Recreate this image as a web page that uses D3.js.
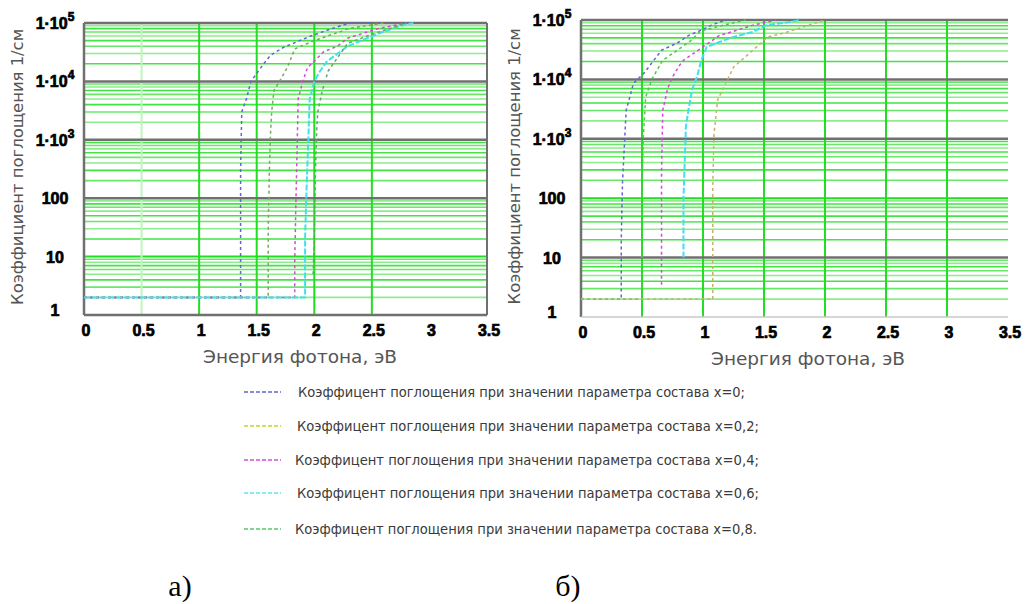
<!DOCTYPE html>
<html><head><meta charset="utf-8">
<script src="https://cdn.jsdelivr.net/npm/d3@7/dist/d3.min.js"></script>
<style>
html,body{margin:0;padding:0;background:#fff;}
svg{display:block;}
</style></head>
<body>
<svg id="c" width="1029" height="604"></svg>
<script>
// ---------- data ----------
const energyTicks = [0, 0.5, 1, 1.5, 2, 2.5, 3, 3.5];
const energyTickLabels = ["0", "0.5", "1", "1.5", "2", "2.5", "3", "3.5"];
const alphaTicks = [1, 10, 100, 1e3, 1e4, 1e5];
const alphaTickBase = ["1", "10", "100", "1·10", "1·10", "1·10"];
const alphaTickExp = ["", "", "", "3", "4", "5"];

const seriesNames = ["x=0", "x=0,2", "x=0,4", "x=0,6", "x=0,8"];
const legendLabels = [
  "Коэффицент поглощения при значении параметра состава x=0;",
  "Коэффицент поглощения при значении параметра состава  x=0,2;",
  "Коэффицент поглощения при значении параметра состава  x=0,4;",
  "Коэффицент поглощения при значении параметра состава  x=0,6;",
  "Коэффицент поглощения при значении параметра состава  x=0,8."
];
const yTitle = "Коэффициент поглощения 1/см";
const xTitle = "Энергия фотона, эВ";
const panelCaptions = ["а)", "б)"];

// panel а) : [energy eV, alpha 1/cm]
const a_x0  = [[0,2],[1.36,2],[1.36,20],[1.36,300],[1.37,3000],[1.41,5000],[1.45,1e4],[1.56,2e4],[1.62,2.8e4],[1.73,3.8e4],[1.97,6e4],[2.11,7.5e4],[2.23,9e4],[2.32,1e5],[2.5,1e5]];
const a_x02 = [[0,2],[1.6,2],[1.6,30],[1.61,300],[1.62,1300],[1.63,3000],[1.65,7000],[1.71,1.1e4],[1.77,1.8e4],[1.83,3.6e4],[2.0,5e4],[2.3,8e4],[2.6,1e5]];
const a_x04 = [[0,2],[1.83,2],[1.83,8],[1.84,80],[1.85,600],[1.86,5000],[1.9,1e4],[1.94,1.7e4],[2.08,3.2e4],[2.2,4e4],[2.29,5.5e4],[2.55,8e4],[2.8,1e5]];
const a_x06 = [[0,2],[1.92,2],[1.92,20],[1.93,100],[1.95,1300],[1.96,5000],[2.0,1e4],[2.04,1.4e4],[2.11,2.2e4],[2.29,4e4],[2.55,6.5e4],[2.75,9e4],[2.86,1e5]];
const a_x08 = [[1.99,5],[2.0,20],[2.01,300],[2.02,1300],[2.03,3000],[2.07,7000],[2.12,1.5e4],[2.29,4.5e4],[2.51,6.5e4],[2.69,8.5e4],[2.8,1e5]];

// panel б)
const b_x0  = [[0,2],[0.33,2],[0.33,20],[0.34,180],[0.37,3000],[0.40,5000],[0.43,8600],[0.52,1.3e4],[0.66,3.1e4],[0.79,4.1e4],[0.89,5.6e4],[0.99,6.8e4],[1.07,8.2e4],[1.14,9.3e4],[1.2,1e5]];
const b_x02 = [[0,2],[0.5,2],[0.5,30],[0.5,150],[0.51,1000],[0.53,5000],[0.58,1e4],[0.67,2.1e4],[0.78,3e4],[0.9,4.5e4],[0.98,6.5e4],[1.2,8.5e4],[1.35,1e5]];
const b_x04 = [[0.66,3.5],[0.66,30],[0.66,260],[0.67,3000],[0.71,7000],[0.75,1.1e4],[0.81,1.75e4],[0.84,2.1e4],[0.98,3.3e4],[1.14,5.6e4],[1.2,6e4],[1.41,8.2e4],[1.6,1e5]];
const b_x06 = [[0.84,10],[0.84,100],[0.86,1600],[0.88,3000],[0.91,6600],[0.95,1.1e4],[0.99,2.2e4],[1.03,3.5e4],[1.14,4.3e4],[1.25,5.2e4],[1.41,6.3e4],[1.52,8.2e4],[1.66,8.9e4],[1.8,1e5]];
const b_x08 = [[0,2],[1.08,2],[1.08,20],[1.08,150],[1.09,1200],[1.12,4500],[1.25,1.6e4],[1.47,4e4],[1.53,5.2e4],[1.66,6e4],[2.0,1e5]];

const panelSeries = [
  [a_x0, a_x02, a_x04, a_x06, a_x08],
  [b_x0, b_x02, b_x04, b_x06, b_x08]
];
const seriesColors = ["#6464d2", "#b4dc28", "#d24cd2", "#5ee6f0", "#5ac86e"];
const panelSeriesColors = [
  ["#6464d2", "#7aa860", "#d24cd2", "#40e0f0", "#6aa070"],
  ["#6464d2", "#4cc84c", "#d24cd2", "#40e0f0", "#c8b070"]
];

// ---------- layout ----------
const panels = [
  {x0: 84, x1: 487, yBot: 315, yTop: 23, darkDecades: [100, 1e3, 1e4, 1e5], vGrid: [0.5, 1, 1.5, 2, 2.5], faint: [0.5], rightBorder: true, titleX: 18, xTitleX: 300},
  {x0: 581, x1: 1008, yBot: 317, yTop: 20, darkDecades: [10, 1e3, 1e4, 1e5], vGrid: [0.5, 1, 1.5, 2, 2.5, 3], faint: [], rightBorder: false, titleX: 515, xTitleX: 808}
];

const svg = d3.select("#c");

panels.forEach((p, pi) => {
  const x = d3.scaleLinear().domain([0, 3.5]).range([p.x0, p.x1]);
  const y = d3.scaleLog().domain([1, 1e5]).range([p.yBot, p.yTop]);
  const g = svg.append("g");

  // minor horizontal grid
  const minors = [];
  [1, 10, 100, 1e3, 1e4].forEach(d => { for (let k = 2; k <= 9; k++) minors.push(d * k); });
  g.selectAll("line.minor").data(minors).join("line")
    .attr("x1", p.x0).attr("x2", p.x1)
    .attr("y1", d => y(d)).attr("y2", d => y(d))
    .attr("stroke", "#2ee02e").attr("stroke-width", 1.6).attr("opacity", (d, i) => 0.55 + 0.35 * ((i * 7) % 3) / 2);

  // non-dark decades drawn green
  g.selectAll("line.dec").data(alphaTicks.filter(d => d > 1 && !p.darkDecades.includes(d))).join("line")
    .attr("x1", p.x0).attr("x2", p.x1)
    .attr("y1", d => y(d)).attr("y2", d => y(d))
    .attr("stroke", "#22dd22").attr("stroke-width", 2);

  // vertical grid
  g.selectAll("line.v").data(p.vGrid).join("line")
    .attr("x1", d => x(d)).attr("x2", d => x(d))
    .attr("y1", p.yTop).attr("y2", p.yBot)
    .attr("stroke", d => p.faint.includes(d) ? "#bdf5bd" : "#22dd22")
    .attr("stroke-width", 2);

  // dark decade lines
  g.selectAll("line.dark").data(p.darkDecades).join("line")
    .attr("x1", p.x0).attr("x2", p.x1)
    .attr("y1", d => y(d)).attr("y2", d => y(d))
    .attr("stroke", "#707070").attr("stroke-width", 2.5);

  // borders
  g.append("line").attr("x1", p.x0).attr("x2", p.x0).attr("y1", p.yTop).attr("y2", p.yBot)
    .attr("stroke", "#707070").attr("stroke-width", 2.5);
  g.append("line").attr("x1", p.x0).attr("x2", p.x1).attr("y1", y(1)).attr("y2", y(1))
    .attr("stroke", pi === 0 ? "#707070" : "#c8c8c8").attr("stroke-width", pi === 0 ? 2.5 : 1.5);
  if (p.rightBorder) {
    g.append("line").attr("x1", p.x1).attr("x2", p.x1).attr("y1", p.yTop).attr("y2", p.yBot)
      .attr("stroke", "#707070").attr("stroke-width", 2);
  }

  // series
  const line = d3.line().x(d => x(d[0])).y(d => y(d[1]));
  panelSeries[pi].forEach((s, si) => {
    g.append("path").datum(s).attr("d", line)
      .attr("fill", "none")
      .attr("stroke", panelSeriesColors[pi][si])
      .attr("stroke-width", si === 3 ? 2 : 1.5)
      .attr("stroke-dasharray", si === 3 ? "6,2" : "3,3");
  });

  // x tick labels
  g.selectAll("text.xt").data(energyTicks).join("text")
    .attr("x", d => x(d) + 2).attr("y", p.yBot + 21)
    .attr("text-anchor", "middle")
    .attr("font-family", "Liberation Sans, Arial, sans-serif")
    .attr("font-weight", "bold").attr("font-size", 16)
    .attr("stroke", "#000").attr("stroke-width", 0.7)
    .attr("fill", "#000")
    .text((d, i) => energyTickLabels[i]);

  // y tick labels
  const yt = g.selectAll("text.yt").data(alphaTicks).join("text")
    .attr("x", p.x0 - 29).attr("y", d => y(d) + (d === 1 ? 1 : 6))
    .attr("text-anchor", "middle")
    .attr("font-family", "Liberation Sans, Arial, sans-serif")
    .attr("font-weight", "bold").attr("font-size", 16)
    .attr("stroke", "#000").attr("stroke-width", 0.7)
    .attr("fill", "#000");
  yt.append("tspan").text((d, i) => alphaTickBase[i]);
  yt.append("tspan").attr("dy", -8).attr("font-size", 12)
    .text((d, i) => alphaTickExp[i]);

  // axis titles
  g.append("text")
    .attr("transform", `translate(${p.titleX},${(p.yTop + p.yBot) / 2 - 2}) rotate(-90)`)
    .attr("text-anchor", "middle").attr("dominant-baseline", "middle")
    .attr("font-family", "DejaVu Sans, sans-serif").attr("font-size", 16)
    .attr("textLength", 276).attr("lengthAdjust", "spacingAndGlyphs")
    .attr("fill", "#555")
    .text(yTitle);
  g.append("text")
    .attr("x", p.xTitleX).attr("y", p.yBot + 48)
    .attr("text-anchor", "middle")
    .attr("font-family", "DejaVu Sans, sans-serif").attr("font-size", 18)
    .attr("textLength", 194).attr("lengthAdjust", "spacingAndGlyphs")
    .attr("fill", "#555")
    .text(xTitle);
});

// legend
const legendY = [392, 426, 460, 493, 529];
const legendTextX = [298, 297, 295, 297, 295];
const legendTextW = [447, 462, 464, 462, 462];
const lg = svg.append("g");
seriesNames.forEach((n, i) => {
  lg.append("line").attr("x1", 244).attr("x2", 281).attr("y1", legendY[i]).attr("y2", legendY[i])
    .attr("stroke", seriesColors[i]).attr("stroke-width", 1.6).attr("stroke-dasharray", "4,2");
  lg.append("text").attr("x", legendTextX[i]).attr("y", legendY[i] + 5)
    .attr("font-family", "DejaVu Sans, sans-serif").attr("font-size", 13.5)
    .attr("textLength", legendTextW[i]).attr("lengthAdjust", "spacingAndGlyphs")
    .attr("fill", "#3a3a3a")
    .text(legendLabels[i]);
});

// captions
svg.selectAll("text.cap").data(panelCaptions).join("text")
  .attr("x", (d, i) => i === 0 ? 180 : 568).attr("y", 596)
  .attr("text-anchor", "middle")
  .attr("font-family", "Liberation Serif, Times New Roman, serif").attr("font-size", 30)
  .attr("fill", "#000")
  .text(d => d);
</script>
</body></html>
